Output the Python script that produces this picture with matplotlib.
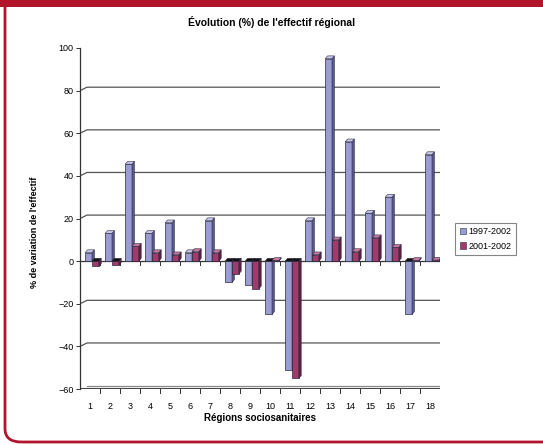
import numpy as np
import matplotlib
matplotlib.use("Agg")
import matplotlib.pyplot as plt
from matplotlib.patches import Polygon, FancyBboxPatch, Rectangle

plt.rcParams['font.family'] = ['Liberation Sans', 'DejaVu Sans']

regions = list(range(1, 19))
v9702 = [4, 13, 45.5, 13, 18, 4, 19, -10, -11, -25, -51, 19, 95, 56, 22.5, 30, -25, 50]
v0102 = [-2.5, -2, 7, 4, 3, 4.5, 4, -6, -13, 0.3, -55, 3, 10, 4.5, 11, 6.5, 0.3, 0.5]
series = ["1997-2002", "2001-2002"]

blue_front, blue_side, blue_top = "#9c9cd4", "#5a5a8c", "#c8c8ec"
red_front, red_side, red_top = "#a03c6c", "#5e1f3e", "#c8789c"

fig = plt.figure(figsize=(5.43, 4.44), dpi=100)
ax = fig.add_axes([80/543, 55/444, 360/543, 341/444])
ax.set_xlim(0.5, 18.5)
ax.set_ylim(-60, 100)

dx, dy = 0.12, 1.3   # depth offset of the 3d bars
gx, gy = 0.35, 1.6   # back wall offset for the grid

# grid lines on the back wall
for v in [-40, -20, 20, 40, 60, 80]:
    ax.plot([0.5, 0.5 + gx, 18.5], [v, v + gy, v + gy], color="#555555", lw=0.9, zorder=1)

# floor
ax.plot([0.5, 18.5], [-60, -60], color="#444444", lw=2.2, zorder=2)
ax.plot([0.5 + gx, 18.5], [-60 + gy, -60 + gy], color="#888888", lw=0.9, zorder=2)


def bar3d(x0, w, v, front, side, top, z):
    y0, y1 = min(0, v), max(0, v)
    ax.add_patch(Rectangle((x0, y0), w, y1 - y0, facecolor=front,
                           edgecolor="#2a2a40", lw=0.5, zorder=z))
    ax.add_patch(Polygon([(x0 + w, y0), (x0 + w + dx, y0 + dy), (x0 + w + dx, y1 + dy), (x0 + w, y1)],
                         closed=True, facecolor=side, edgecolor="#2a2a40", lw=0.4, zorder=z))
    tc = top if v > 0 else "#111111"
    ax.add_patch(Polygon([(x0, y1), (x0 + dx, y1 + dy), (x0 + w + dx, y1 + dy), (x0 + w, y1)],
                         closed=True, facecolor=tc, edgecolor="#2a2a40", lw=0.4, zorder=z))


w = 0.34
for i, c in enumerate(regions):
    bar3d(c - 0.24, w, v9702[i], blue_front, blue_side, blue_top, 3 + i * 0.01)
    bar3d(c + 0.1, w, v0102[i], red_front, red_side, red_top, 3.005 + i * 0.01)

# zero line with boundary ticks
ax.plot([0.5, 18.5], [0, 0], color="#333333", lw=0.9, zorder=2.5)
for b in np.arange(1.5, 18.5, 1):
    ax.plot([b, b], [0, -1.8], color="#333333", lw=0.7, zorder=2.5)
    ax.plot([b, b], [-60, -62], color="#333333", lw=0.7, zorder=2.5, clip_on=False)

for s in ["top", "right", "bottom"]:
    ax.spines[s].set_visible(False)
ax.spines["left"].set_color("#333333")
ax.spines["left"].set_linewidth(0.9)

ax.set_yticks(range(-60, 101, 20))
ax.tick_params(axis="y", labelsize=6.5, length=3, width=0.7, color="#333333", pad=1.5)
ax.set_xticks(regions)
ax.set_xticklabels([str(r) for r in regions])
ax.tick_params(axis="x", labelsize=6.5, length=0, pad=9)

ax.set_xlabel("Régions sociosanitaires", fontsize=7, fontweight="bold", labelpad=2)
ax.set_ylabel("% de variation de l'effectif", fontsize=6.5, fontweight="bold")
ax.yaxis.set_label_coords(-0.115, 0.46)
fig.text(0.5, 1 - 22/444, "Évolution (%) de l'effectif régional", ha="center", va="center",
         fontsize=7.5, fontweight="bold")

handles = [Rectangle((0, 0), 1, 1, facecolor=blue_front, edgecolor="#2a2a40", lw=0.4),
           Rectangle((0, 0), 1, 1, facecolor=red_front, edgecolor="#2a2a40", lw=0.4)]
leg = fig.legend(handles, series, loc="center left", bbox_to_anchor=(455/543, 1 - 239/444),
                 fontsize=6.5, frameon=True, fancybox=False, handlelength=0.7, handleheight=0.7,
                 handletextpad=0.3, borderpad=0.5, labelspacing=0.6, borderaxespad=0)
leg.get_frame().set_edgecolor("#666666")
leg.get_frame().set_linewidth(0.8)

# red frame around the panel, open at the top under the band
fig.patches.append(FancyBboxPatch((5/543, 2/444), 560/543, 480/444, transform=fig.transFigure,
                                  boxstyle="round,pad=0,rounding_size=0.03", facecolor="none",
                                  edgecolor="#b0152b", lw=2))
fig.patches.append(Rectangle((0, 1 - 7/444), 1, 7/444, transform=fig.transFigure,
                             facecolor="#b0152b", edgecolor="none"))

fig.savefig("out.png", dpi=100)
